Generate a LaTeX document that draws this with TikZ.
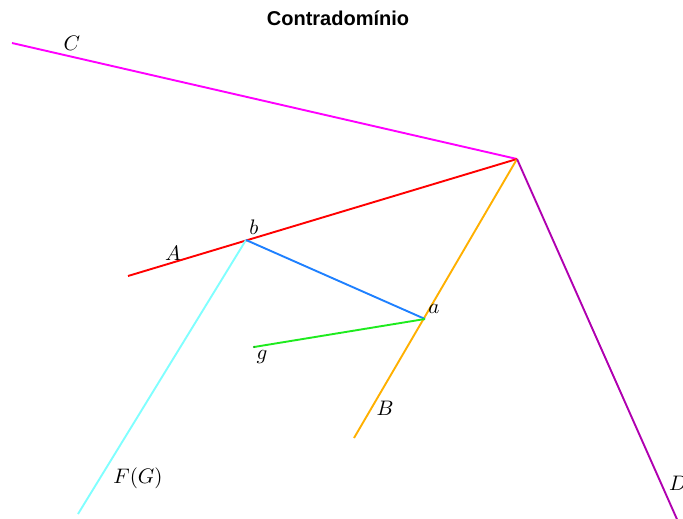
\documentclass[tikz,border=0pt]{standalone}
\usepackage{graphicx}
\usepackage{fontspec}
\newfontfamily\titlefont{Liberation Sans}
\newcommand{\biglbl}[1]{\scalebox{2.1}{$#1$}}
\begin{document}
\begin{tikzpicture}[x=1pt,y=-1pt,
  seg/.style={line width=1.9pt},
  lbl/.style={inner sep=0pt}]
\definecolor{cmag}{RGB}{255,0,255}
\definecolor{cred}{RGB}{255,0,0}
\definecolor{corange}{RGB}{255,176,0}
\definecolor{cpurple}{RGB}{176,0,176}
\definecolor{ccyan}{RGB}{128,255,255}
\definecolor{cblue}{RGB}{30,128,255}
\definecolor{cgreen}{RGB}{30,235,30}
\useasboundingbox (0,0) rectangle (683,519);
\clip (0,0) rectangle (683,519);
\coordinate (P) at (517,159);
\coordinate (c0) at (12,43);
\coordinate (a0) at (128,276);
\coordinate (b0) at (354,438);
\coordinate (d0) at (680,526);
\coordinate (f0) at (78,514);
\coordinate (b) at (246,240);
\coordinate (a) at (425,319);
\coordinate (g) at (254,347);
\draw[seg, cmag] (c0) -- (P);
\draw[seg, cred] (a0) -- (P);
\draw[seg, corange] (b0) -- (P);
\draw[seg, cpurple] (P) -- (d0);
\draw[seg, ccyan] (b) -- (f0);
\draw[seg, cblue] (b) -- (a);
\draw[seg, cgreen] (a) -- (g);
\fill[cgreen!70!black] (g) circle (1.2pt);
\node[font=\titlefont\bfseries\fontsize{20}{24}\selectfont] (title) at (338,18) {Contradomínio};
\node[lbl] (lC) at (72,43) {\biglbl{C}};
\node[lbl] (lA) at (173,253) {\biglbl{A}};
\node[lbl] (lb) at (254,227) {\biglbl{b}};
\node[lbl] (la) at (434,309) {\biglbl{a}};
\node[lbl] (lg) at (262,357) {\biglbl{g}};
\node[lbl] (lB) at (385,408) {\biglbl{B}};
\node[lbl] (lF) at (138,478) {\biglbl{F(G)}};
\node[lbl] (lD) at (678,483) {\biglbl{D}};
\end{tikzpicture}
\end{document}
